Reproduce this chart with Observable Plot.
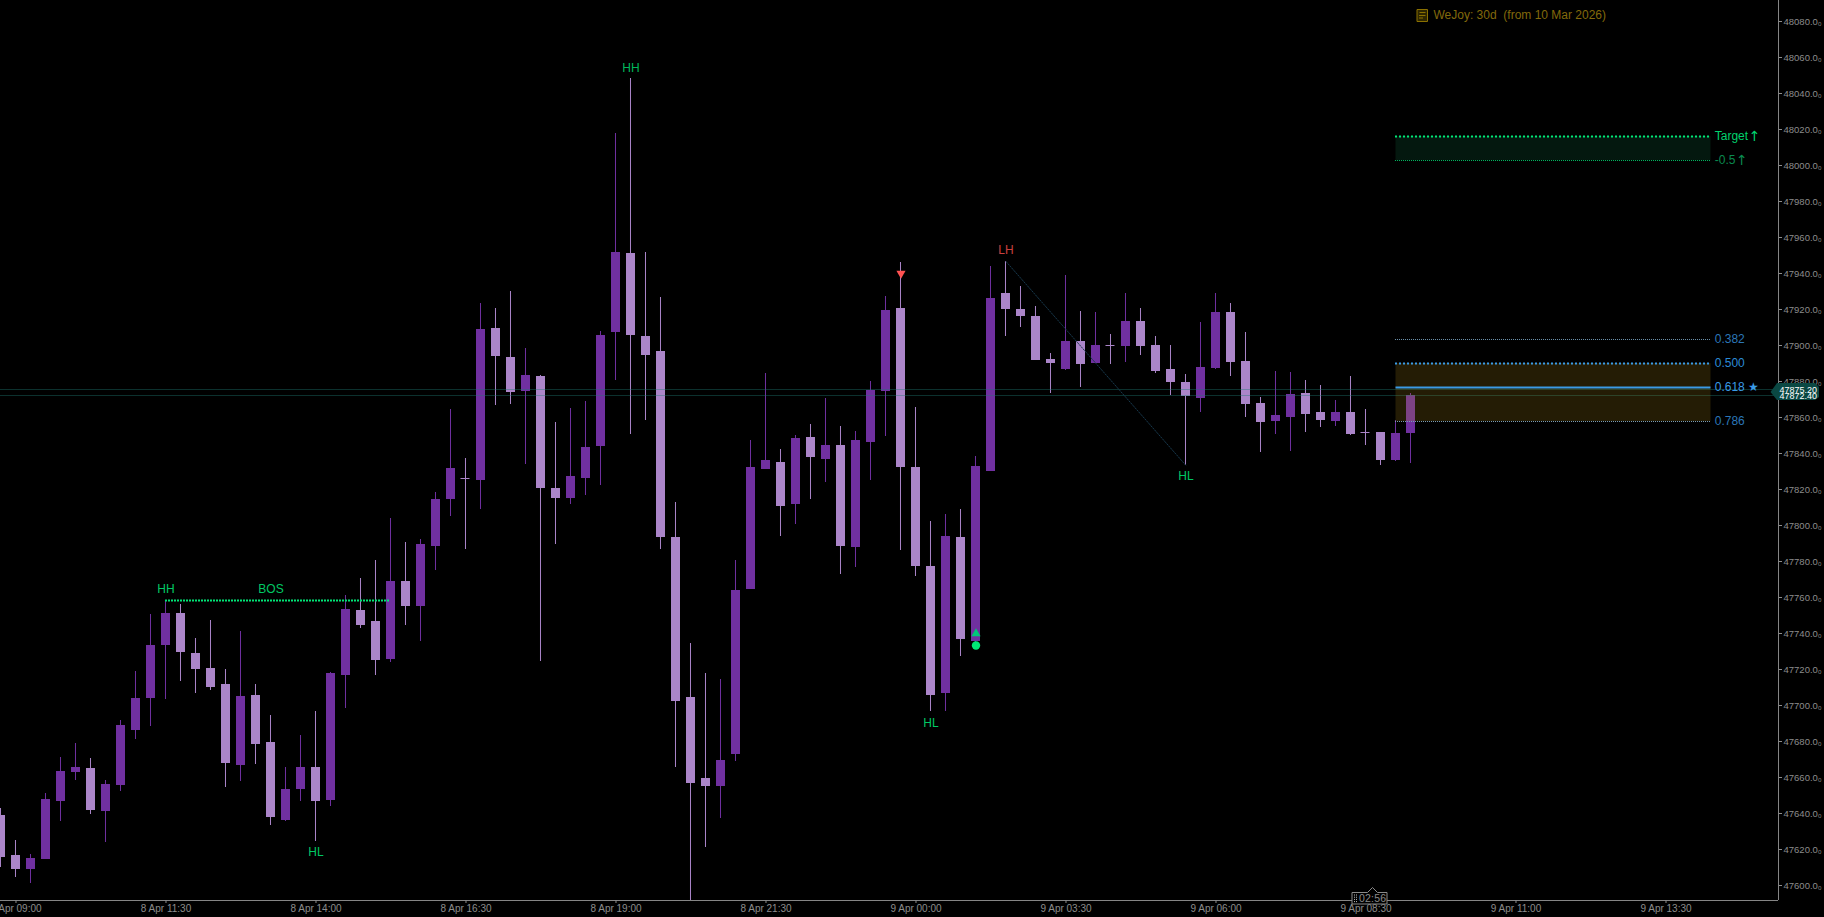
<!DOCTYPE html>
<html>
<head>
<meta charset="utf-8">
<style>html,body{margin:0;padding:0;background:#000;overflow:hidden}svg{display:block}</style>
<script src="https://cdn.jsdelivr.net/npm/d3@7"></script>
<script src="https://cdn.jsdelivr.net/npm/@observablehq/plot@0.6"></script>
</head>
<body>
<script>
const firstBar = -1;
const opens = [47639.0,47616.8,47609.0,47614.6,47646.8,47662.8,47665.1,47641.2,47655.6,47686.2,47703.9,47733.4,47751.1,47728.9,47720.6,47711.7,47666.7,47705.6,47679.5,47636.2,47653.4,47665.6,47647.3,47716.7,47752.8,47746.7,47725.6,47768.9,47755.0,47788.3,47814.4,47825.9,47825.0,47909.3,47893.2,47874.4,47882.7,47820.5,47815.0,47826.1,47843.8,47907.1,47951.0,47904.9,47896.6,47793.3,47704.5,47659.5,47655.1,47672.8,47764.5,47831.1,47835.0,47811.6,47848.8,47836.6,47844.4,47787.8,47846.1,47874.4,47920.5,47832.2,47777.2,47706.7,47793.3,47735.6,47830.0,47928.8,47919.9,47916.0,47892.1,47886.6,47902.1,47889.9,47899.7,47899.4,47913.2,47899.9,47886.5,47879.3,47870.4,47887.1,47918.2,47891.0,47867.7,47857.7,47859.9,47873.2,47862.7,47857.7,47862.7,47851.4,47851.6,47836.0,47851.0];
const closes = [47615.7,47609.0,47615.1,47647.9,47663.4,47665.6,47641.8,47656.2,47688.9,47703.9,47733.4,47751.1,47729.5,47720.0,47710.0,47667.9,47705.0,47678.4,47637.9,47653.4,47665.6,47646.8,47717.8,47753.3,47744.5,47725.0,47768.9,47755.0,47789.4,47814.4,47831.6,47825.9,47908.8,47893.8,47873.8,47883.2,47820.5,47815.0,47827.2,47843.3,47905.4,47951.5,47905.4,47894.3,47793.3,47702.3,47656.8,47655.1,47669.5,47763.9,47832.2,47836.1,47810.5,47848.3,47837.7,47844.4,47788.3,47847.2,47874.9,47919.3,47832.2,47777.2,47705.6,47793.9,47736.7,47832.7,47926.0,47919.9,47916.0,47891.6,47889.9,47902.1,47889.4,47899.9,47899.7,47913.2,47899.3,47885.4,47879.3,47871.6,47887.7,47918.2,47890.4,47867.1,47857.1,47861.0,47872.7,47861.6,47858.2,47862.7,47850.5,47851.4,47836.0,47851.0,47872.4];
const highs = [47642.7,47625.1,47617.3,47651.0,47671.2,47679.0,47670.6,47658.4,47691.7,47718.9,47750.6,47758.3,47756.1,47737.2,47747.2,47720.0,47741.1,47711.7,47694.5,47665.6,47683.4,47696.7,47718.4,47761.1,47770.6,47780.5,47803.9,47790.5,47792.2,47818.3,47864.4,47837.2,47923.2,47920.4,47929.9,47898.2,47883.2,47857.2,47864.9,47868.8,47907.7,48017.6,48048.1,47951.5,47926.5,47812.7,47734.5,47717.8,47714.5,47780.5,47847.2,47884.4,47842.2,47850.0,47856.1,47870.5,47854.9,47852.2,47879.9,47927.1,47946.0,47865.5,47802.2,47806.1,47808.9,47838.3,47943.8,47946.5,47932.7,47921.6,47895.5,47938.8,47918.8,47918.2,47906.0,47928.8,47920.4,47904.9,47899.9,47883.8,47912.6,47928.7,47923.2,47907.1,47871.0,47885.4,47884.9,47880.4,47877.7,47869.3,47882.7,47864.3,47851.6,47858.2,47873.2];
const lows = [47610.3,47604.6,47601.2,47614.6,47635.7,47658.4,47639.5,47624.0,47652.3,47681.2,47688.4,47703.4,47713.4,47706.7,47708.4,47654.5,47657.9,47667.3,47633.4,47635.7,47646.8,47624.6,47644.0,47698.4,47742.8,47716.7,47723.9,47744.5,47735.6,47775.0,47805.2,47786.6,47808.9,47866.6,47867.1,47833.8,47724.5,47789.4,47811.6,47816.6,47822.2,47880.5,47850.5,47858.3,47786.7,47665.6,47590.0,47621.2,47637.3,47669.0,47764.5,47831.1,47793.9,47800.5,47814.4,47823.9,47772.8,47776.7,47825.0,47849.4,47786.1,47771.7,47696.7,47696.7,47727.2,47734.5,47830.0,47904.9,47909.9,47891.6,47873.3,47886.0,47876.6,47889.9,47889.4,47890.5,47894.3,47884.3,47872.1,47833.3,47862.7,47886.5,47882.7,47859.9,47840.5,47850.5,47841.0,47851.6,47854.3,47854.9,47849.9,47844.4,47833.3,47835.5,47834.4];

const timeTickBars = [0,10,20,30,40,50,60,70,80,90,100,110];
const timeTickLabels = ["8 Apr 09:00","8 Apr 11:30","8 Apr 14:00","8 Apr 16:30","8 Apr 19:00","8 Apr 21:30","9 Apr 00:00","9 Apr 03:30","9 Apr 06:00","9 Apr 08:30","9 Apr 11:00","9 Apr 13:30"];
const priceTicks = [47600,47620,47640,47660,47680,47700,47720,47740,47760,47780,47800,47820,47840,47860,47880,47900,47920,47940,47960,47980,48000,48020,48040,48060,48080];

const swingLabels = ["HH","BOS","HL","HH","HL","LH","HL"];
const swingBars = [10,17,20,41,61,66,78];
const swingPrices = [47764.6,47764.6,47618.6,48053.7,47690.2,47952.6,47827.2];
const swingColors = ["#00c864","#00c864","#00c864","#00b85c","#00c864","#c8403f","#00c864"];

const fibStart = 92, fibEnd = 113;
const fibLabels = ["0.382","0.500","0.618 ★","0.786"];
const fibPrices = [47903.0,47889.9,47876.6,47857.5];
const targetPrice = 48015.9, targetHalf = 48002.4;
const bid = 47872.4, ask = 47875.2;
const bosPrice = 47758.3, bosFrom = 10, bosTo = 25;
const legFrom = 66, legTo = 78;

const candles = opens.map((o,i)=>({k:i+firstBar,open:o,close:closes[i],high:highs[i],low:lows[i],
  fill: closes[i] > o ? "#7030a0" : "#ab85c9"}));
const full = candles.filter(d=>d.open!==d.close), dojis = candles.filter(d=>d.open===d.close);
const labelFont = "Liberation Sans";
const axisColor = "#8c8c8c";
const swings = swingLabels.map((t,i)=>({t,k:swingBars[i],p:swingPrices[i],c:swingColors[i]}));
const rightBar = fibEnd + 0.25;
const rightLabels = [
 {t:"Target",p:targetPrice,c:"#00d26e"},{t:"-0.5",p:targetHalf,c:"#0a8a4f"},
 {t:fibLabels[0],p:fibPrices[0],c:"#2b77b8"},{t:fibLabels[1],p:fibPrices[1],c:"#2b8bd6"},
 {t:fibLabels[2],p:fibPrices[2],c:"#3a9be6"},{t:fibLabels[3],p:fibPrices[3],c:"#2b77b8"}];
const arrows = [{k:115.9,p:targetPrice,c:"#00d26e"},{k:115.05,p:targetHalf,c:"#0a8a4f"}];

function chrome({x,y}){
  const g = d3.create("svg:g").attr("text-anchor","start");
  const ya=y(ask), yb=y(bid);
  g.append("path").attr("d",`M1770.5,${(ya+yb)/2}L1777,${ya-6}H1815L1819,${ya-2}V${yb+2}L1815,${yb+5}H1777Z`).attr("fill","#0a4843");
  g.append("path").attr("d","M1417,9.5H1427.5V21.5H1417ZM1419.5,12.5H1425.5M1419,15.5H1425.5M1419,18H1423")
    .attr("fill","#2e2600").attr("stroke","#8a7000");
  [[ask,"47875.20"],[bid,"47872.40"]].forEach(([p,t])=>g.append("text").attr("x",1779.5).attr("y",y(p)+3.5)
     .attr("fill","#fff").attr("font-family",labelFont).attr("font-size",9).text(t));
  const b = g.append("g");
  b.append("path").attr("d","M1352,892.5H1367.5L1372.5,887.5L1377.5,892.5H1387V904H1352Z")
    .attr("fill","#000").attr("stroke","#8a8a8a");
  for(const i of [0,1,2,3]) for(const j of [0,1])
    b.append("rect").attr("x",1354+j*2).attr("y",894.5+i*2.2).attr("width",1).attr("height",1).attr("fill","#bbb");
  b.append("text").attr("x",1359).attr("y",902).attr("fill","#8a8a8a").attr("font-family",labelFont)
    .attr("font-size",10.5).attr("letter-spacing","0.2").text("02:56");
  return g.node();
}

const plot = Plot.plot({
  width:1824, height:917, marginTop:0, marginBottom:17, marginLeft:0, marginRight:46,
  style:{background:"#000",fontFamily:labelFont},
  x:{type:"linear",domain:[-1.0333,117.5]},
  y:{type:"linear",domain:[47591.8,48091.4],round:true},
  marks:[
    Plot.rect([0],{x1:fibStart,x2:fibEnd,y1:targetHalf,y2:targetPrice,fill:"#04180f"}),
    Plot.ruleY([targetPrice],{x1:fibStart,x2:fibEnd,stroke:"#00e676",strokeWidth:2,strokeDasharray:"2,2",dx:-0.5}),
    Plot.ruleY([targetHalf],{x1:fibStart,x2:fibEnd,stroke:"#00b860",strokeWidth:1,strokeDasharray:"1,1",dx:-0.5}),
    Plot.ruleX(candles,{x:"k",y1:"low",y2:"high",stroke:"fill",strokeWidth:1,dx:-0.5,clip:true}),
    Plot.rect(full,{x1:d=>d.k-0.3,x2:d=>d.k+0.3,y1:"open",y2:"close",fill:"fill"}),
    Plot.ruleY(dojis,{y:"open",x1:d=>d.k-0.3,x2:d=>d.k+0.3,stroke:"fill",dx:-0.5}),
    Plot.ruleY([ask,bid],{stroke:"#1f7a72",strokeOpacity:0.4}),
    Plot.line([{k:legFrom,p:highs[legFrom-firstBar]},{k:legTo,p:lows[legTo-firstBar]}],
      {x:"k",y:"p",stroke:"#17384c",strokeWidth:1,strokeDasharray:"1.5,1.5"}),
    Plot.ruleY([bosPrice],{x1:bosFrom,x2:bosTo,stroke:"#00e676",strokeWidth:2,strokeDasharray:"2,1",dx:-0.5}),
    Plot.rect([0],{x1:fibStart,x2:fibEnd,y1:fibPrices[3],y2:fibPrices[1],fill:"#b58a1a",fillOpacity:0.2}),
    Plot.ruleY([fibPrices[0]],{x1:fibStart,x2:fibEnd,stroke:"#6d93ad",strokeDasharray:"1,1",dx:-0.5}),
    Plot.ruleY([fibPrices[1]],{x1:fibStart,x2:fibEnd,stroke:"#3a9be6",strokeWidth:2,strokeDasharray:"2,2",dx:-0.5}),
    Plot.ruleY([fibPrices[2]],{x1:fibStart,x2:fibEnd,stroke:"#3a9be6",strokeWidth:2}),
    Plot.ruleY([fibPrices[3]],{x1:fibStart,x2:fibEnd,stroke:"#7d9fb5",strokeDasharray:"1,1",dx:-0.5}),
    Plot.dot([{k:59,p:47939.7}],{x:"k",y:"p",symbol:"triangle",rotate:180,r:3.4,fill:"#ff5252",stroke:"none"}),
    Plot.dot([{k:64,p:47739.8}],{x:"k",y:"p",symbol:"triangle",r:3.4,fill:"#00c878",stroke:"none"}),
    Plot.dot([{k:64,p:47733.2}],{x:"k",y:"p",r:4.2,fill:"#00e676",stroke:"none"}),
    Plot.text(swings,{x:"k",y:"p",text:"t",fill:"c",fontSize:12,fontFamily:labelFont}),
    Plot.text(rightLabels,{x:rightBar,y:"p",text:"t",fill:"c",fontSize:12,fontFamily:labelFont,textAnchor:"start"}),
    Plot.text(arrows,{x:"k",y:"p",text:()=>"↑",fill:"c",fontSize:14,fontFamily:"DejaVu Sans"}),
    Plot.text(["WeJoy: 30d  (from 10 Mar 2026)"],{x:94.5,y:48082.8,text:d=>d,fill:"#83690b",fontSize:12,fontFamily:labelFont,textAnchor:"start"}),
    Plot.ruleY([47591.8],{stroke:"#858585"}),
    Plot.ruleX([117.5],{stroke:"#858585"}),
    Plot.axisX({anchor:"bottom",ticks:timeTickBars,tickFormat:(d)=>timeTickLabels[timeTickBars.indexOf(d)],
      tickSize:3,tickPadding:1,color:axisColor,label:null,fontSize:10,fontFamily:labelFont}),
    Plot.axisY({anchor:"right",ticks:priceTicks,tickFormat:d=>d+".0₀",tickSize:3,tickPadding:2,
      color:axisColor,label:null,fontSize:9.5,fontFamily:labelFont}),
    (i,s)=>chrome(s)
  ]
});
document.body.appendChild(plot);
</script>
</body>
</html>
